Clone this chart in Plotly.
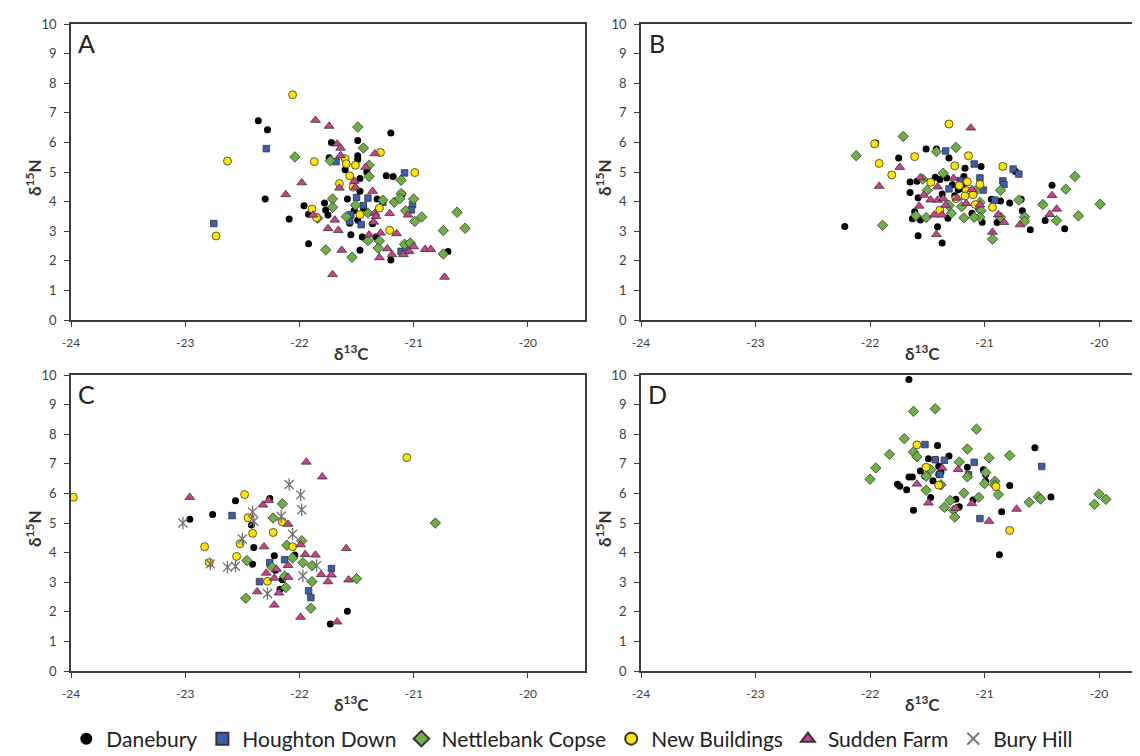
import plotly.graph_objects as go

# ---------------- data ----------------
SERIES = ["Danebury", "Houghton Down", "Nettlebank Copse", "New Buildings", "Sudden Farm", "Bury Hill"]
X_TICKS = [-24, -23, -22, -21, -20]
Y_TICKS = [0, 1, 2, 3, 4, 5, 6, 7, 8, 9, 10]
PANELS = ["A", "B", "C", "D"]

# Panel A
A_dan_x = [-22.36, -22.28, -22.30, -22.09, -21.96, -21.92, -21.92, -21.78, -21.77, -21.75, -21.74, -21.72,
           -21.60, -21.58, -21.56, -21.55, -21.49, -21.49, -21.49, -21.47, -21.47, -21.49, -21.47, -21.45,
           -21.44, -21.41, -21.32, -21.33, -21.24, -21.18, -21.20, -21.20, -21.10, -20.70, -21.52, -21.36]
A_dan_y = [6.73, 6.43, 4.09, 3.41, 3.86, 2.58, 3.57, 3.95, 3.72, 3.55, 5.48, 6.00,
           5.08, 4.09, 3.27, 2.88, 6.06, 5.55, 5.42, 4.78, 4.35, 3.37, 2.36, 2.80,
           3.78, 5.00, 4.09, 2.80, 4.87, 4.85, 6.32, 2.03, 4.26, 2.31, 3.70, 3.25]
A_hou_x = [-22.75, -22.29, -21.68, -21.50, -21.40, -21.44, -21.55, -21.56, -21.46, -21.27, -21.01, -21.02,
           -21.08, -21.11, -21.07]
A_hou_y = [3.26, 5.79, 5.35, 4.14, 4.12, 3.87, 3.56, 3.33, 3.22, 3.98, 3.90, 3.72,
           4.97, 2.32, 2.34]
A_net_x = [-22.04, -21.73, -21.71, -21.71, -21.49, -21.44, -21.39, -21.39, -21.51, -21.59, -21.40, -21.27,
           -21.17, -21.11, -21.11, -21.00, -21.07, -20.99, -20.93, -20.62, -20.55, -20.74, -20.74, -21.30,
           -21.31, -21.40, -21.77, -21.54, -21.08, -21.03, -21.84, -21.12]
A_net_y = [5.51, 5.38, 4.09, 3.81, 6.52, 5.81, 5.23, 4.85, 3.88, 3.49, 3.61, 4.05,
           3.98, 4.27, 4.72, 4.09, 3.69, 3.33, 3.48, 3.64, 3.10, 3.02, 2.23, 2.67,
           2.43, 2.68, 2.37, 2.12, 2.56, 2.60, 3.44, 4.10]
A_new_x = [-22.06, -22.63, -22.73, -21.87, -21.89, -21.85, -21.65, -21.60, -21.59, -21.51, -21.56, -21.53,
           -21.47, -21.30, -21.29, -21.21, -20.99]
A_new_y = [7.61, 5.37, 2.84, 5.35, 3.75, 3.46, 4.61, 5.45, 5.28, 5.23, 4.87, 4.49,
           3.56, 3.78, 5.66, 3.03, 4.98]
A_sud_x = [-22.12, -21.98, -21.86, -21.74, -21.71, -21.67, -21.64, -21.64, -21.88, -21.69, -21.75, -21.66,
           -21.63, -21.52, -21.51, -21.65, -21.42, -21.34, -21.36, -21.34, -21.33, -21.35, -21.39, -21.30,
           -21.29, -21.21, -21.23, -21.19, -21.15, -21.09, -21.05, -21.04, -21.00, -20.90, -20.85, -20.73]
A_sud_y = [4.24, 4.64, 6.75, 6.55, 1.54, 5.95, 5.81, 5.56, 3.55, 3.38, 3.09, 3.03,
           2.36, 4.69, 4.49, 4.46, 5.16, 5.62, 4.35, 3.61, 3.50, 3.31, 2.88, 2.11,
           2.94, 3.60, 2.41, 2.21, 2.92, 2.21, 3.55, 2.32, 2.48, 2.39, 2.39, 1.45]
A_bury_x = []
A_bury_y = []

# Panel B
B_dan_x = [-22.22, -21.95, -21.75, -21.51, -21.42, -21.31, -21.17, -21.03, -20.73, -21.65, -21.59, -21.65,
           -21.58, -21.61, -21.63, -21.56, -21.58, -21.41, -21.37, -21.43, -21.39, -21.33, -21.28, -21.37,
           -21.32, -21.18, -21.23, -21.11, -21.02, -20.94, -20.89, -20.86, -20.78, -20.68, -20.67, -20.60,
           -20.47, -20.41, -20.30, -21.19, -21.17, -21.26]
B_dan_y = [3.16, 5.98, 5.47, 5.78, 5.78, 5.47, 5.13, 5.19, 5.02, 4.66, 4.69, 4.31,
           4.13, 3.66, 3.42, 3.38, 2.85, 3.15, 2.60, 4.82, 4.75, 4.80, 4.57, 4.26,
           3.44, 4.85, 4.40, 3.61, 3.30, 4.08, 3.29, 4.02, 3.95, 4.08, 3.69, 3.05,
           3.36, 4.55, 3.08, 4.44, 4.63, 4.20]
B_hou_x = [-21.34, -21.09, -20.75, -20.70, -20.84, -20.83, -21.04, -21.01, -21.31, -21.21, -20.91, -21.05]
B_hou_y = [5.71, 5.27, 5.10, 4.93, 4.70, 4.58, 4.80, 4.39, 4.43, 4.71, 4.05, 3.82]
B_net_x = [-22.12, -21.71, -21.89, -21.25, -21.42, -21.36, -21.54, -21.50, -21.60, -21.51, -21.29, -21.31,
           -21.18, -21.20, -21.08, -21.04, -21.03, -21.04, -21.09, -20.93, -20.86, -20.86, -20.70, -20.65,
           -20.65, -20.49, -20.37, -20.29, -20.21, -20.18, -19.99]
B_net_y = [5.55, 6.20, 3.20, 5.83, 5.69, 4.96, 4.76, 4.38, 3.52, 3.46, 3.61, 3.87,
           3.45, 3.83, 4.36, 3.97, 3.69, 3.47, 3.47, 2.73, 4.38, 3.47, 4.05, 3.48,
           3.33, 3.90, 3.36, 4.42, 4.85, 3.52, 3.91]
B_new_x = [-21.96, -21.92, -21.81, -21.61, -21.31, -21.26, -21.14, -20.84, -21.47, -21.22, -21.15, -21.16,
           -21.17, -21.25, -21.10, -21.08, -21.04, -20.93, -21.39]
B_new_y = [5.95, 5.29, 4.90, 5.52, 6.62, 5.21, 5.55, 5.19, 4.65, 4.54, 4.67, 4.37,
           4.19, 4.10, 4.23, 3.90, 4.58, 3.81, 3.71]
B_sud_x = [-21.92, -21.74, -21.12, -21.56, -21.41, -21.27, -21.53, -21.47, -21.41, -21.36, -21.24, -21.11,
           -21.44, -21.37, -21.42, -21.57, -21.34, -21.16, -21.04, -20.88, -20.83, -20.93, -20.69, -20.41,
           -20.37, -20.43]
B_sud_y = [4.52, 5.16, 6.49, 4.81, 4.50, 4.79, 4.22, 4.06, 4.05, 4.10, 4.12, 4.41,
           3.55, 3.55, 2.89, 3.85, 3.88, 3.94, 3.89, 3.56, 3.30, 2.97, 3.22, 4.21,
           3.75, 3.57]
B_bury_x = []
B_bury_y = []

# Panel C
C_dan_x = [-22.96, -22.76, -22.56, -22.26, -22.42, -22.40, -22.41, -22.22, -22.04, -22.15, -22.17, -21.58,
           -21.73, -22.21]
C_dan_y = [5.13, 5.29, 5.75, 5.83, 4.93, 4.17, 3.61, 3.89, 3.92, 3.08, 2.76, 2.02,
           1.59, 3.40]
C_hou_x = [-22.59, -22.35, -22.26, -22.13, -21.92, -21.90, -21.72]
C_hou_y = [5.25, 3.02, 3.66, 3.76, 2.71, 2.48, 3.46]
C_net_x = [-22.47, -22.46, -22.23, -22.15, -22.11, -22.06, -21.98, -22.24, -21.97, -21.89, -22.13, -21.89,
           -22.12, -21.90, -21.50, -20.81]
C_net_y = [2.46, 3.73, 5.17, 5.65, 4.25, 3.82, 4.40, 3.51, 3.66, 3.56, 3.20, 3.02,
           2.82, 2.12, 3.12, 5.00]
C_new_x = [-23.98, -22.83, -22.79, -22.55, -22.52, -22.48, -22.45, -22.41, -22.23, -22.15, -22.06, -22.28,
           -21.06]
C_new_y = [5.87, 4.20, 3.66, 3.87, 4.30, 5.96, 5.18, 4.65, 4.68, 5.04, 4.20, 3.03,
           7.21]
C_sud_x = [-22.96, -22.32, -22.27, -21.80, -21.94, -22.10, -22.31, -21.99, -21.95, -21.86, -22.10, -22.29,
           -22.20, -22.22, -22.10, -21.81, -21.72, -21.75, -21.57, -21.59, -22.37, -22.18, -22.22, -21.99,
           -21.67]
C_sud_y = [5.87, 5.61, 5.76, 6.56, 7.06, 4.96, 4.20, 4.27, 3.94, 3.92, 3.57, 3.31,
           3.44, 3.14, 3.17, 3.26, 3.25, 3.02, 3.08, 4.14, 2.68, 2.64, 2.23, 1.82,
           1.66]
C_bury_x = [-23.02, -22.78, -22.63, -22.56, -22.50, -22.41, -22.40, -22.28, -22.16, -22.06, -22.09, -21.99,
            -21.98, -21.97, -21.85]
C_bury_y = [5.00, 3.62, 3.51, 3.54, 4.46, 5.37, 5.06, 2.62, 5.23, 4.62, 6.30, 5.95,
            5.45, 3.22, 3.56]

# Panel D
D_dan_x = [-21.66, -21.41, -21.31, -21.49, -21.43, -21.40, -21.38, -21.40, -21.56, -21.52, -21.63, -21.66,
           -21.76, -21.74, -21.68, -21.45, -21.47, -21.62, -21.25, -21.22, -21.15, -21.10, -21.01, -20.99,
           -20.99, -20.85, -20.78, -20.56, -20.42, -20.87]
D_dan_y = [9.85, 7.62, 7.26, 7.17, 7.14, 6.92, 6.72, 6.64, 6.76, 6.58, 6.55, 6.55,
           6.31, 6.24, 6.12, 6.43, 5.86, 5.43, 5.80, 5.55, 6.88, 5.78, 6.80, 6.64,
           6.41, 5.38, 6.27, 7.54, 5.88, 3.93]
D_hou_x = [-21.52, -21.43, -21.35, -21.39, -21.09, -21.14, -21.04, -20.50]
D_hou_y = [7.65, 7.14, 7.12, 6.64, 7.05, 6.63, 5.15, 6.91]
D_net_x = [-22.00, -21.95, -21.83, -21.70, -21.62, -21.43, -21.62, -21.59, -21.47, -21.51, -21.38, -21.51,
           -21.22, -21.15, -21.07, -20.96, -20.78, -21.15, -20.99, -21.00, -20.91, -20.91, -20.88, -21.18,
           -21.05, -21.30, -21.35, -21.27, -21.26, -20.61, -20.53, -20.51, -20.04, -20.00, -19.94]
D_net_y = [6.48, 6.86, 7.32, 7.85, 8.77, 8.86, 7.40, 7.24, 6.80, 6.58, 6.29, 6.11,
           7.06, 7.50, 8.17, 7.20, 7.28, 6.56, 6.71, 6.33, 6.41, 6.28, 5.96, 6.01,
           5.87, 5.76, 5.53, 5.43, 5.20, 5.70, 5.89, 5.81, 5.63, 5.98, 5.80]
D_new_x = [-21.59, -21.51, -21.40, -20.90, -20.78]
D_new_y = [7.64, 6.88, 6.28, 6.23, 4.75]
D_sud_x = [-21.59, -21.49, -21.37, -21.23, -21.25, -21.11, -20.96, -20.72]
D_sud_y = [6.32, 5.68, 6.86, 6.81, 5.50, 5.66, 5.06, 5.47]
D_bury_x = []
D_bury_y = []

# ---------------- assemble ----------------
DATA = {
    "A": [(A_dan_x, A_dan_y), (A_hou_x, A_hou_y), (A_net_x, A_net_y), (A_new_x, A_new_y), (A_sud_x, A_sud_y), (A_bury_x, A_bury_y)],
    "B": [(B_dan_x, B_dan_y), (B_hou_x, B_hou_y), (B_net_x, B_net_y), (B_new_x, B_new_y), (B_sud_x, B_sud_y), (B_bury_x, B_bury_y)],
    "C": [(C_dan_x, C_dan_y), (C_hou_x, C_hou_y), (C_net_x, C_net_y), (C_new_x, C_new_y), (C_sud_x, C_sud_y), (C_bury_x, C_bury_y)],
    "D": [(D_dan_x, D_dan_y), (D_hou_x, D_hou_y), (D_net_x, D_net_y), (D_new_x, D_new_y), (D_sud_x, D_sud_y), (D_bury_x, D_bury_y)],
}

EDGE = "#333333"
STYLES = [
    dict(symbol="circle", size=7, color="#000000", line=dict(width=0, color="#000000")),
    dict(symbol="square", size=6.5, color="#3D5EAD", line=dict(width=0.8, color=EDGE)),
    dict(symbol="diamond", size=8, color="#6DB043", line=dict(width=0.8, color=EDGE)),
    dict(symbol="circle", size=8, color="#FFE500", line=dict(width=0.8, color=EDGE)),
    dict(symbol="triangle-up", size=8.5, color="#CE3F8D", line=dict(width=0.8, color=EDGE)),
    dict(symbol="x-thin-open", size=9, color="#707070", line=dict(width=1.3, color="#707070")),
]

W, H = 1140, 756
BOX = {  # left, right, top, bottom in pixels
    "A": (63, 577, 16, 312),
    "B": (633, 1140, 16, 312),
    "C": (63, 577, 367, 663),
    "D": (633, 1140, 367, 663),
}
XR = {"A": [-24, -19.5], "C": [-24, -19.5],
      "B": [-24, -24 + (1140 - 633) / 114.5], "D": [-24, -24 + (1140 - 633) / 114.5]}

fig = go.Figure()
shown = set()
for i, p in enumerate(PANELS):
    ax = "" if i == 0 else str(i + 1)
    for s, (name, (xs, ys)) in enumerate(zip(SERIES, DATA[p])):
        st = STYLES[s]
        first = name not in shown and len(xs) > 0
        if first:
            shown.add(name)
        fig.add_trace(go.Scatter(
            x=xs, y=ys, mode="markers", name=name, legendgroup=name,
            showlegend=first, legendrank=s + 1,
            marker=dict(symbol=st["symbol"], size=st["size"], color=st["color"], line=st["line"]),
            xaxis="x" + ax, yaxis="y" + ax, hoverinfo="x+y+name"))
        if s == 5 and len(xs) > 0:
            fig.add_trace(go.Scatter(
                x=xs, y=ys, mode="markers", name=name, legendgroup=name, showlegend=False,
                marker=dict(symbol="line-ns-open", size=9, color="#707070",
                            line=dict(width=1.3, color="#707070")),
                xaxis="x" + ax, yaxis="y" + ax, hoverinfo="skip"))

AX_COL = "#3c3c3c"
FONT = "Lato, Open Sans, sans-serif"
TICKFONT = dict(family=FONT, size=12, color="#404040")
layout = dict(
    width=W, height=H, paper_bgcolor="white", plot_bgcolor="white",
    margin=dict(l=0, r=0, t=0, b=0, autoexpand=False),
    showlegend=True,
    legend=dict(orientation="h", x=0.495, xanchor="center", y=1 - 731 / H, yanchor="middle",
                font=dict(family=FONT, size=21, color="#222222"),
                itemsizing="constant", tracegroupgap=0, traceorder="normal", itemwidth=30),
)
annotations = []
for i, p in enumerate(PANELS):
    l, r, t, b = BOX[p]
    key = "" if i == 0 else str(i + 1)
    right_open = p in ("B", "D")
    layout["xaxis" + key] = dict(
        domain=[l / W, r / W], range=XR[p], anchor="y" + key, automargin=False,
        tickmode="array", tickvals=X_TICKS, ticktext=[str(v) for v in X_TICKS],
        showline=True, linecolor=AX_COL, linewidth=1.6, mirror=True,
        ticks="outside", ticklen=5, tickwidth=1.4, tickcolor=AX_COL,
        showgrid=False, zeroline=False, tickfont=TICKFONT, ticklabelstandoff=6)
    layout["yaxis" + key] = dict(
        domain=[1 - b / H, 1 - t / H], range=[0, 10], anchor="x" + key, automargin=False,
        tickmode="array", tickvals=Y_TICKS,
        showline=True, linecolor=AX_COL, linewidth=1.6, mirror=not right_open,
        ticks="outside", ticklen=5, tickwidth=1.4, tickcolor=AX_COL,
        showgrid=False, zeroline=False, tickfont=dict(TICKFONT, size=13), ticklabelstandoff=5)
    # axis titles
    annotations.append(dict(text="<b>δ<sup>15</sup>N</b>", xref="paper", yref="y" + key,
                            x=(l - 37) / W, y=4.8, textangle=-90, showarrow=False,
                            xanchor="center", yanchor="middle",
                            font=dict(family=FONT, size=17, color="#333333")))
    annotations.append(dict(text="<b>δ<sup>13</sup>C</b>", xref="x" + key, yref="paper",
                            x=-21.54, y=1 - (b + 32) / H, showarrow=False,
                            xanchor="center", yanchor="middle",
                            font=dict(family=FONT, size=17, color="#333333")))
    # panel letter
    annotations.append(dict(text=p, xref="paper", yref="paper",
                            x=(l + 16) / W, y=1 - (t + 19) / H, showarrow=False,
                            xanchor="center", yanchor="middle",
                            font=dict(family=FONT, size=25, color="#222222")))
layout["annotations"] = annotations
fig.update_layout(**layout)

fig.write_html("out.html")
